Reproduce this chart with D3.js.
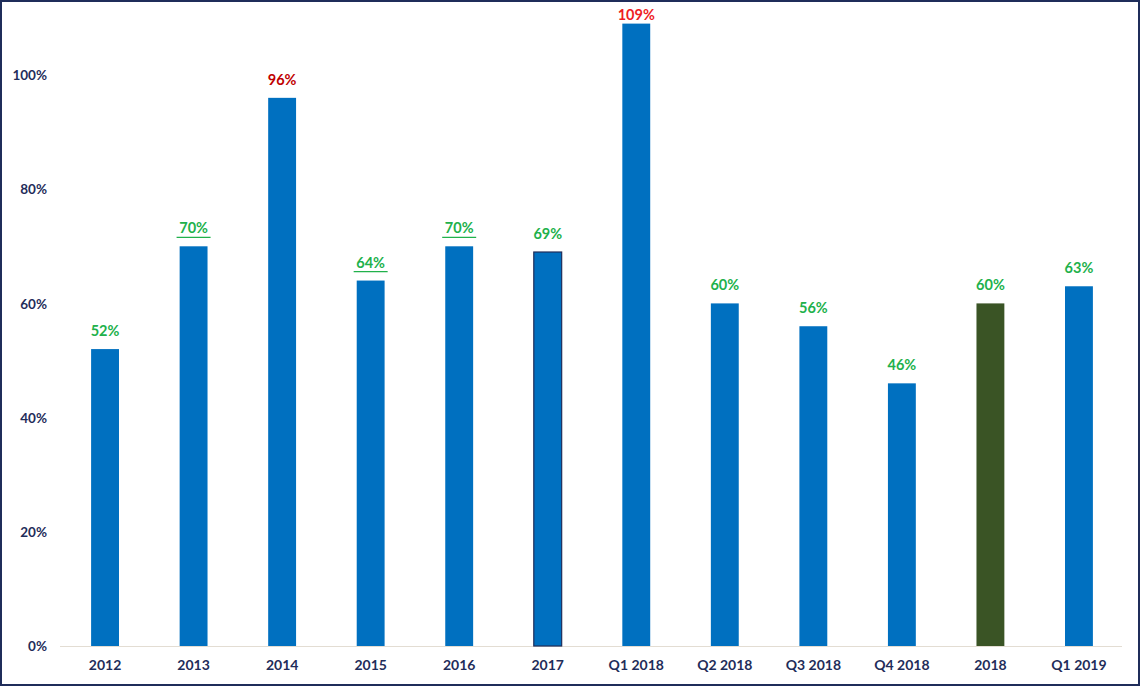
<!DOCTYPE html>
<html><head><meta charset="utf-8">
<script src="https://cdn.jsdelivr.net/npm/d3@7"></script>
<style>
html,body{margin:0;padding:0;background:#fff;}
svg{display:block;}
</style></head>
<body>
<svg id="chart" width="1140" height="686"></svg>
<script>
const categories = ["2012","2013","2014","2015","2016","2017","Q1 2018","Q2 2018","Q3 2018","Q4 2018","2018","Q1 2019"];
const values = [52,70,96,64,70,69,109,60,56,46,60,63];
const tickValues = [0,20,40,60,80,100];
const labelColors = ["#21b14b","#21b14b","#c00000","#21b14b","#21b14b","#21b14b","#ee1c24","#21b14b","#21b14b","#21b14b","#21b14b","#21b14b"];
const underlined = ["2013","2015","2016"];

const svg = d3.select("#chart");
const W = 1140, H = 686;
const font = "Lato, 'Open Sans', sans-serif";

svg.append("rect").attr("x",1).attr("y",1).attr("width",W-2).attr("height",H-2)
  .attr("fill","#fff").attr("stroke","#1f2d5a").attr("stroke-width",2);

const x = d3.scaleBand().domain(categories).range([61,1123]).paddingInner(0.685).paddingOuter(0.34);
const y = d3.scaleLinear().domain([0,100]).range([646,75]);

// baseline
svg.append("line").attr("x1",60).attr("x2",1122).attr("y1",y(0)+0.5).attr("y2",y(0)+0.5)
  .attr("stroke","#e3ddd3").attr("stroke-width",1.2);

// y axis
const yAxis = d3.axisLeft(y).tickValues(tickValues).tickFormat(d=>d+"%").tickSize(0).tickPadding(0);
const ya = svg.append("g").attr("transform","translate(47,0)").call(yAxis);
ya.select(".domain").remove();
ya.selectAll("text").attr("font-family",font).attr("font-weight","bold").attr("font-size",13.5).attr("fill","#1f2d5a").attr("dy","0.35em");

// x axis
const xAxis = d3.axisBottom(x).tickSize(0).tickPadding(0);
const xa = svg.append("g").attr("transform","translate(0,"+(y(0)+14)+")").call(xAxis);
xa.select(".domain").remove();
xa.selectAll("text").attr("font-family",font).attr("font-weight","bold").attr("font-size",14).attr("fill","#1f2d5a").attr("dy","0.71em");

// bars
svg.selectAll("rect.bar").data(categories).enter().append("rect").attr("class","bar")
  .attr("x",d=>x(d)).attr("width",x.bandwidth())
  .attr("y",(d,i)=>y(values[i])).attr("height",(d,i)=>y(0)-y(values[i]))
  .attr("fill",d=>d==="2018"?"#3a5425":"#0070c0")
  .attr("stroke",d=>d==="2017"?"#1f2d5a":"none").attr("stroke-width",1.2);

const labelY = v => Math.max(20, y(v)-13);

// labels
svg.selectAll("text.lbl").data(categories).enter().append("text").attr("class","lbl")
  .attr("x",d=>x(d)+x.bandwidth()/2).attr("y",(d,i)=>labelY(values[i]))
  .attr("text-anchor","middle").attr("font-family",font).attr("font-weight","bold").attr("font-size",14.5)
  .attr("fill",(d,i)=>labelColors[i]).text((d,i)=>values[i]+"%");

// underlines
svg.selectAll("line.ul").data(categories.filter(c=>underlined.includes(c))).enter().append("line").attr("class","ul")
  .attr("x1",d=>x(d)+x.bandwidth()/2-17).attr("x2",d=>x(d)+x.bandwidth()/2+17)
  .attr("y1",d=>labelY(values[categories.indexOf(d)])+4).attr("y2",d=>labelY(values[categories.indexOf(d)])+4)
  .attr("stroke","#21b14b").attr("stroke-width",1.3);
</script>
</body></html>
